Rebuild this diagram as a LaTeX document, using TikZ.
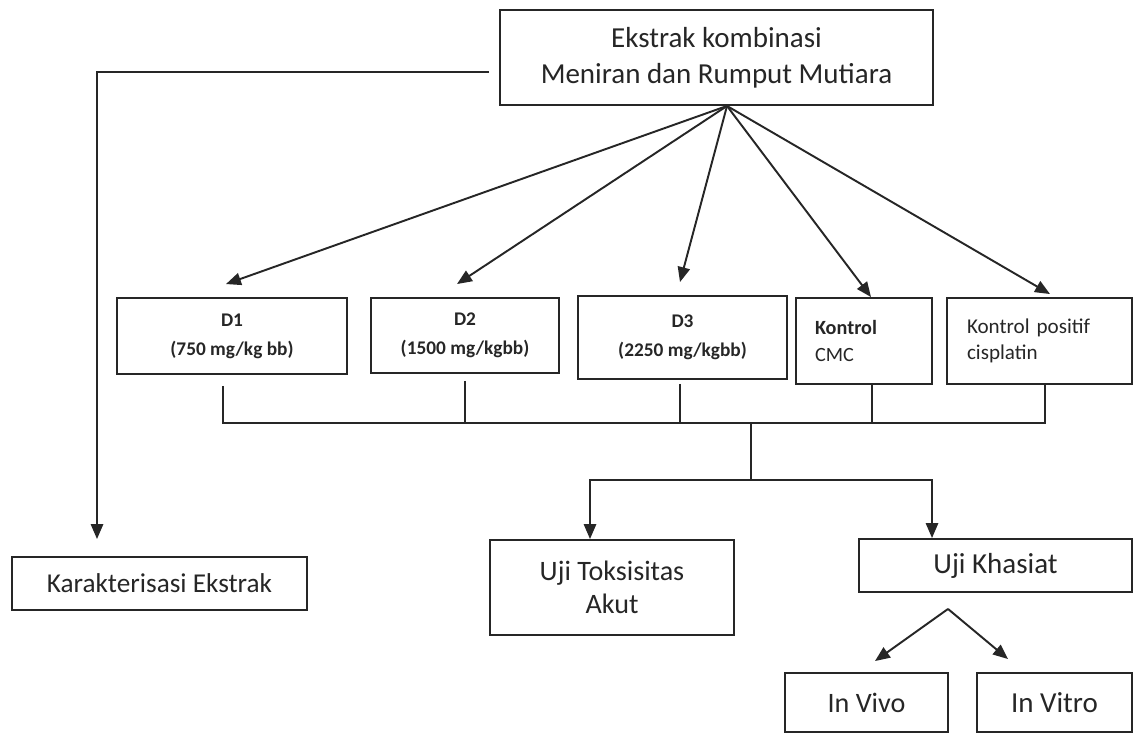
\documentclass[tikz,border=0pt]{standalone}
\usepackage{fontspec}
\setmainfont{Carlito}
\usepackage{xcolor}
\usetikzlibrary{arrows.meta}
\definecolor{ink}{HTML}{262626}

\begin{document}
\begin{tikzpicture}[x=0.02cm, y=-0.02cm, >={Triangle[length=8.5pt,width=7pt]},
    line width=1.1pt, draw=ink, text=ink,
    box/.style={draw=ink, rectangle, inner sep=0pt, align=center}]
    \useasboundingbox (0,0) rectangle (1133,734);
    % Nodes
    \node[box, minimum width=8.66cm, minimum height=1.9cm, font=\fontsize{16.5}{20.5}\selectfont] (ekstrak) at (716.5,57.5) {Ekstrak kombinasi\\Meniran dan Rumput Mutiara};
    \node[box, minimum width=4.6cm, minimum height=1.52cm, font=\fontsize{11}{16.5}\selectfont\bfseries] (d1) at (232,336) {D1\\(750 mg/kg bb)};
    \node[box, minimum width=3.76cm, minimum height=1.5cm, font=\fontsize{11}{16.5}\selectfont\bfseries] (d2) at (465,335.5) {D2\\(1500 mg/kgbb)};
    \node[box, minimum width=4.18cm, minimum height=1.66cm, font=\fontsize{11}{16.5}\selectfont\bfseries] (d3) at (682.5,337.5) {D3\\(2250 mg/kgbb)};
    \node[box, minimum width=2.72cm, minimum height=1.72cm, text width=1.96cm, align=left, font=\fontsize{11.5}{15.5}\selectfont] (kontrol) at (864,341) {\textbf{Kontrol}\\CMC};
    \node[box, minimum width=3.7cm, minimum height=1.72cm, text width=2.9cm, align=left, font=\fontsize{12}{14.5}\selectfont] (positif) at (1039.5,341) {Kontrol positif\\cisplatin};
    \node[box, minimum width=5.9cm, minimum height=1.06cm, font=\fontsize{15.5}{18}\selectfont] (karakter) at (159.5,583.5) {Karakterisasi Ekstrak};
    \node[box, minimum width=4.88cm, minimum height=1.9cm, font=\fontsize{16}{19}\selectfont] (toksisitas) at (612,587.5) {Uji Toksisitas\\Akut};
    \node[box, minimum width=5.46cm, minimum height=1.06cm, font=\fontsize{16.5}{18}\selectfont] (khasiat) at (995.5,565.5) {Uji Khasiat};
    \node[box, minimum width=3.26cm, minimum height=1.18cm, font=\fontsize{16}{18}\selectfont] (invivo) at (866.5,702.5) {In Vivo};
    \node[box, minimum width=3.1cm, minimum height=1.18cm, font=\fontsize{16.5}{18}\selectfont] (invitro) at (1054.5,702.5) {In Vitro};

    % Junctions
    \coordinate (fan) at ([xshift=0.21cm]ekstrak.south);
    \coordinate (bus) at (751,423);
    \coordinate (split) at (751,480);
    \coordinate (fork) at ([xshift=-0.95cm,yshift=-0.32cm]khasiat.south);

    % Arrows
    \draw[->] ([xshift=-0.2cm,yshift=-0.29cm]ekstrak.west) -| ([xshift=-1.25cm,yshift=0.34cm]karakter.north);
    \draw[->] (fan) -- ([xshift=-0.12cm,yshift=0.26cm]d1.north);
    \draw[->] (fan) -- ([xshift=-0.16cm,yshift=0.26cm]d2.north);
    \draw[->] (fan) -- ([xshift=-0.05cm,yshift=0.26cm]d3.north);
    \draw[->] (fan) -- ([xshift=0.14cm]kontrol.north);
    \draw[->] (fan) -- ([xshift=0.21cm,yshift=0.06cm]positif.north);

    \draw ([xshift=-0.18cm,yshift=-0.22cm]d1.south) |- (bus);
    \draw ([yshift=-0.14cm]d2.south) -- (d2.south |- bus);
    \draw ([xshift=-0.05cm,yshift=-0.08cm]d3.south) -- ([xshift=-0.05cm]d3.south |- bus);
    \draw ([xshift=0.16cm]kontrol.south) -- ([xshift=0.16cm]kontrol.south |- bus);
    \draw ([xshift=0.11cm]positif.south) |- (bus);
    \draw (bus) -- (split);

    \draw[->] (split) -| ([xshift=-0.44cm]toksisitas.north);
    \draw[->] (split) -| ([xshift=-1.27cm]khasiat.north);

    \draw[->] (fork) -- ([xshift=0.17cm,yshift=0.22cm]invivo.north);
    \draw[->] (fork) -- ([xshift=-0.93cm,yshift=0.26cm]invitro.north);
\end{tikzpicture}
\end{document}
